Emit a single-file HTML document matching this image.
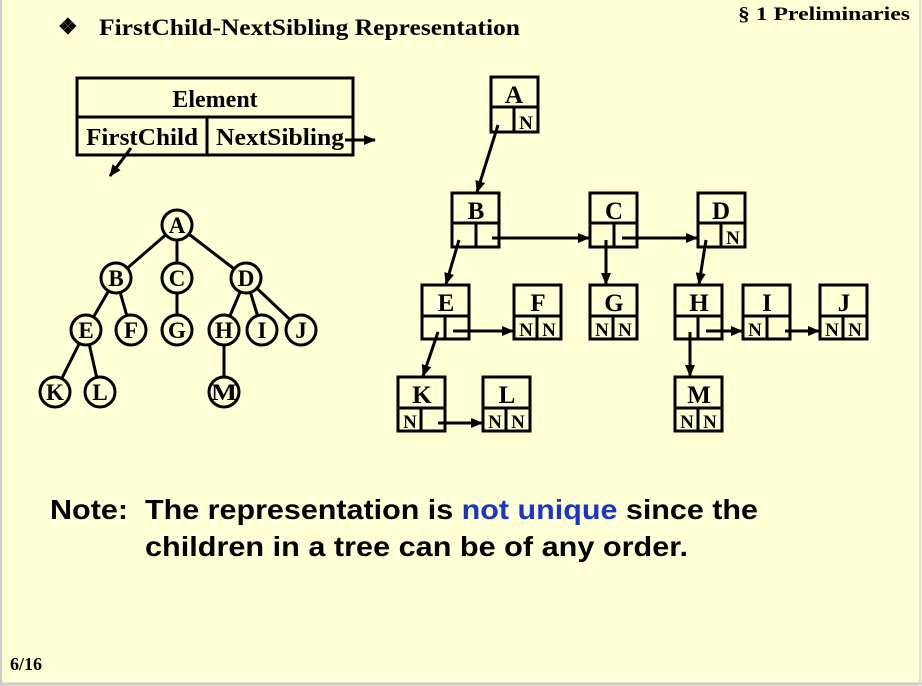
<!DOCTYPE html>
<html><head><meta charset="utf-8"><style>
html,body{margin:0;padding:0;background:#ffffd5;}
svg{display:block}
</style></head><body>
<svg width="922" height="686" viewBox="0 0 922 686" xmlns="http://www.w3.org/2000/svg">
<defs>
<marker id="ar" markerWidth="12" markerHeight="10" refX="11" refY="5" orient="auto" markerUnits="userSpaceOnUse">
<path d="M0,0 L12,5 L0,10 z" fill="#000"/>
</marker>
</defs>
<rect x="0" y="0" width="922" height="686" fill="#ffffd5"/>
<line x1="1" y1="0" x2="1" y2="686" stroke="#ccc" stroke-width="2"/>
<line x1="0" y1="684" x2="922" y2="684" stroke="#ccc" stroke-width="3"/>
<line x1="920" y1="0" x2="920" y2="686" stroke="#ddd" stroke-width="2"/>

<g font-family="Liberation Serif, serif" font-weight="bold" fill="#000">
<text x="58" y="34" font-size="22">❖</text>
<text x="99" y="35" font-size="23" textLength="421" lengthAdjust="spacingAndGlyphs">FirstChild-NextSibling Representation</text>
<text x="738" y="20" font-size="19" textLength="172" lengthAdjust="spacingAndGlyphs">§ 1  Preliminaries</text>
<text x="10" y="670" font-size="18">6/16</text>
</g>

<!-- Element box -->
<g stroke="#000" stroke-width="3" fill="none">
<rect x="77" y="78" width="276" height="77"/>
<line x1="77" y1="117" x2="353" y2="117"/>
<line x1="207" y1="117" x2="207" y2="155"/>
</g>
<g font-family="Liberation Serif, serif" font-weight="bold" font-size="24" text-anchor="middle">
<text x="215" y="107">Element</text>
<text x="142" y="145" textLength="112" lengthAdjust="spacingAndGlyphs">FirstChild</text>
<text x="280" y="145" textLength="128" lengthAdjust="spacingAndGlyphs">NextSibling</text>
</g>
<g stroke="#000" stroke-width="3" marker-end="url(#ar)">
<line x1="131" y1="148" x2="110" y2="176"/>
<line x1="345" y1="140" x2="375" y2="140"/>
</g>

<!-- Tree -->
<g stroke="#000" stroke-width="3">
<line x1="177" y1="225" x2="116" y2="278"/>
<line x1="177" y1="225" x2="177" y2="278"/>
<line x1="177" y1="225" x2="246" y2="278"/>
<line x1="116" y1="278" x2="86" y2="330"/>
<line x1="116" y1="278" x2="131" y2="330"/>
<line x1="177" y1="278" x2="177" y2="330"/>
<line x1="246" y1="278" x2="224" y2="330"/>
<line x1="246" y1="278" x2="262" y2="330"/>
<line x1="246" y1="278" x2="301" y2="330"/>
<line x1="86" y1="330" x2="55" y2="392"/>
<line x1="86" y1="330" x2="100" y2="392"/>
<line x1="224" y1="330" x2="224" y2="392"/>
</g>
<g stroke="#000" stroke-width="3" fill="#ffffd5">
<circle cx="177" cy="225" r="15"/>
<circle cx="116" cy="278" r="15"/><circle cx="177" cy="278" r="15"/><circle cx="246" cy="278" r="15"/>
<circle cx="86" cy="330" r="15"/><circle cx="131" cy="330" r="15"/><circle cx="177" cy="330" r="15"/>
<circle cx="224" cy="330" r="15"/><circle cx="262" cy="330" r="15"/><circle cx="301" cy="330" r="15"/>
<circle cx="55" cy="392" r="15"/><circle cx="100" cy="392" r="15"/><circle cx="224" cy="392" r="15"/>
</g>
<g font-family="Liberation Serif, serif" font-weight="bold" font-size="23" text-anchor="middle">
<text x="177" y="233">A</text>
<text x="116" y="286">B</text><text x="177" y="286">C</text><text x="246" y="286">D</text>
<text x="86" y="338">E</text><text x="131" y="338">F</text><text x="177" y="338">G</text>
<text x="224" y="338">H</text><text x="262" y="338">I</text><text x="301" y="338">J</text>
<text x="55" y="400">K</text><text x="100" y="400">L</text><text x="224" y="400" textLength="26" lengthAdjust="spacingAndGlyphs">M</text>
</g>

<!-- FCNS boxes -->
<g stroke="#000" stroke-width="3" fill="none">
<rect x="491" y="77" width="47" height="55"/><line x1="491" y1="107" x2="538" y2="107"/><line x1="514" y1="107" x2="514" y2="132"/>
<rect x="452" y="193" width="47" height="54"/><line x1="452" y1="223" x2="499" y2="223"/><line x1="476" y1="223" x2="476" y2="247"/>
<rect x="590" y="193" width="47" height="54"/><line x1="590" y1="223" x2="637" y2="223"/><line x1="614" y1="223" x2="614" y2="247"/>
<rect x="698" y="193" width="47" height="54"/><line x1="698" y1="223" x2="745" y2="223"/><line x1="721" y1="223" x2="721" y2="247"/>
<rect x="422" y="285" width="47" height="54"/><line x1="422" y1="316" x2="469" y2="316"/><line x1="445" y1="316" x2="445" y2="339"/>
<rect x="514" y="285" width="47" height="54"/><line x1="514" y1="316" x2="561" y2="316"/><line x1="537" y1="316" x2="537" y2="339"/>
<rect x="590" y="285" width="47" height="54"/><line x1="590" y1="316" x2="637" y2="316"/><line x1="613" y1="316" x2="613" y2="339"/>
<rect x="675" y="285" width="47" height="54"/><line x1="675" y1="316" x2="722" y2="316"/><line x1="698" y1="316" x2="698" y2="339"/>
<rect x="743" y="285" width="47" height="54"/><line x1="743" y1="316" x2="790" y2="316"/><line x1="767" y1="316" x2="767" y2="339"/>
<rect x="820" y="285" width="47" height="54"/><line x1="820" y1="316" x2="867" y2="316"/><line x1="843" y1="316" x2="843" y2="339"/>
<rect x="398" y="377" width="47" height="54"/><line x1="398" y1="408" x2="445" y2="408"/><line x1="421" y1="408" x2="421" y2="431"/>
<rect x="483" y="377" width="47" height="54"/><line x1="483" y1="408" x2="530" y2="408"/><line x1="506" y1="408" x2="506" y2="431"/>
<rect x="675" y="377" width="47" height="54"/><line x1="675" y1="408" x2="722" y2="408"/><line x1="698" y1="408" x2="698" y2="431"/>
</g>
<g font-family="Liberation Serif, serif" font-weight="bold" font-size="25" text-anchor="middle">
<text x="514" y="103">A</text>
<text x="476" y="219">B</text><text x="614" y="219">C</text><text x="721" y="219">D</text>
<text x="446" y="311">E</text><text x="538" y="311">F</text><text x="614" y="311">G</text>
<text x="699" y="311">H</text><text x="767" y="311">I</text><text x="844" y="311">J</text>
<text x="422" y="403">K</text><text x="507" y="403">L</text><text x="699" y="403">M</text>
</g>
<g font-family="Liberation Serif, serif" font-weight="bold" font-size="19" text-anchor="middle">
<text x="526" y="129">N</text>
<text x="733" y="244">N</text>
<text x="526" y="336">N</text><text x="549" y="336">N</text>
<text x="602" y="336">N</text><text x="625" y="336">N</text>
<text x="755" y="336">N</text>
<text x="832" y="336">N</text><text x="855" y="336">N</text>
<text x="410" y="428">N</text>
<text x="495" y="428">N</text><text x="518" y="428">N</text>
<text x="687" y="428">N</text><text x="710" y="428">N</text>
</g>
<g stroke="#000" stroke-width="3" marker-end="url(#ar)">
<line x1="498" y1="125" x2="477" y2="192"/>
<line x1="492" y1="238" x2="589" y2="238"/>
<line x1="622" y1="238" x2="697" y2="238"/>
<line x1="459" y1="240" x2="446" y2="284"/>
<line x1="606" y1="240" x2="606" y2="284"/>
<line x1="706" y1="240" x2="699" y2="284"/>
<line x1="453" y1="331" x2="513" y2="331"/>
<line x1="438" y1="332" x2="423" y2="376"/>
<line x1="706" y1="331" x2="742" y2="331"/>
<line x1="785" y1="331" x2="819" y2="331"/>
<line x1="690" y1="332" x2="690" y2="376"/>
<line x1="438" y1="423" x2="482" y2="423"/>
</g>

<g font-family="Liberation Sans, Arial, sans-serif" font-weight="bold" font-size="28">
<text x="50" y="519" textLength="78" lengthAdjust="spacingAndGlyphs">Note:</text>
<text x="145" y="519" textLength="613" lengthAdjust="spacingAndGlyphs">The representation is <tspan fill="#1a35c8">not unique</tspan> since the</text>
<text x="145" y="556" textLength="543" lengthAdjust="spacingAndGlyphs">children in a tree can be of any order.</text>
</g>
</svg>
</body></html>
